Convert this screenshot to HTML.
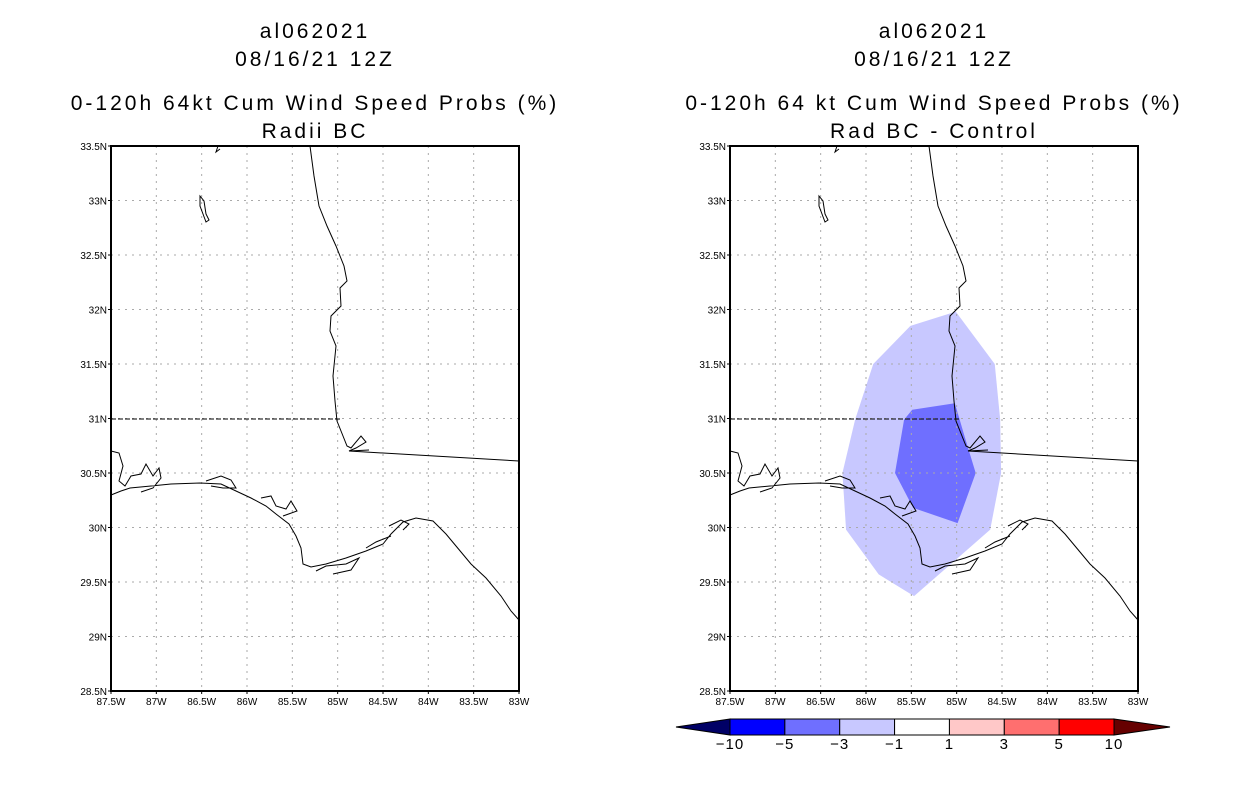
<!DOCTYPE html>
<html><head><meta charset="utf-8"><style>
body{margin:0;background:#fff;}
svg{display:block;font-family:"Liberation Sans",sans-serif;}
</style></head><body>
<svg id="s" width="1236" height="800" viewBox="0 0 1236 800"></svg>
<script>
const NS="http://www.w3.org/2000/svg";
const svg=document.getElementById('s');
// data
const lonTicks=[-87.5,-87,-86.5,-86,-85.5,-85,-84.5,-84,-83.5,-83];
const lonLabels=["87.5W","87W","86.5W","86W","85.5W","85W","84.5W","84W","83.5W","83W"];
const latTicks=[28.5,29,29.5,30,30.5,31,31.5,32,32.5,33,33.5];
const latLabels=["28.5N","29N","29.5N","30N","30.5N","31N","31.5N","32N","32.5N","33N","33.5N"];
const lightLon=[-85.01,-85.51,-85.92,-86.12,-86.26,-86.22,-85.86,-85.47,-84.85,-84.63,-84.51,-84.52,-84.58];
const lightLat=[31.98,31.85,31.50,30.99,30.50,29.98,29.57,29.37,29.82,29.98,30.50,30.99,31.50];
const darkLon=[-85.49,-85.02,-84.90,-84.79,-84.99,-85.48,-85.68,-85.58];
const darkLat=[31.08,31.14,30.80,30.50,30.04,30.18,30.50,30.99];
const cbLevels=["-10","-5","-3","-1","1","3","5","10"];
const cbColors=["#0000ff","#6f6fff","#c8c8ff","#ffffff","#ffc8c8","#ff6f6f","#ff0000"];
const W=408,H=545;
function el(t,a,p,name){const e=document.createElementNS(NS,t);for(const k in a)e.setAttribute(k,a[k]);(p||svg).appendChild(e);


return e;}
function xs(lon){return (lon+87.5)/4.5*W;}
function ys(lat){return (33.5-lat)/5*H;}
const coast="M0,349 L10,345 L19,342 L40,340 L60,338 L89,337 L110,338 L125,345 L140,352 L155,360 L165,368 L178,378 L185,390 L190,402 L192,418 L200,421 L215,418 L235,412 L255,405 L272,398 L280,388 L292,376 L305,372 L322,375 L335,388 L345,400 L360,418 L375,432 L390,450 L400,465 L408,474";
const bays="M0,305 L8,307 L12,320 L8,335 L14,340 L20,330 L30,328 L35,318 L42,330 L48,322 L50,332 L42,342 L30,346 M95,335 L110,330 L120,334 L125,342 L112,342 L100,340 M150,352 L160,350 L165,360 L175,363 L180,355 L186,365 L172,370 M205,425 L215,420 L235,418 L248,412 L240,424 L222,428 M278,380 L290,374 L298,378 L292,384 M255,402 L265,396 L280,390";
const river="M199,0 L203,30 L208,60 L216,80 L225,100 L233,120 L236,135 L229,142 L230,160 L220,170 L219,185 L225,200 L222,230 L224,255 L226,275 L232,290 L236,300 L240,302 L250,290 L255,296 L245,302 L238,305 L258,304";
const line="M238,305 L408,315";
const lake="M89,50 L93,55 L95,68 L98,74 L95,76 L92,68 L89,60 Z M107,0 L105,6 L109,3";
const state="M0,273 L230,273";
function panel(ox,title3,title4,name,fill){
  const g=el('g',{transform:`translate(${ox},146)`},svg,name);
  if(fill){
    const lp=lightLon.map((v,i)=>xs(v)+','+ys(lightLat[i])).join(' ');
    el('polygon',{points:lp,fill:'#c8c8ff'},g,'prob-diff-minus1-to-minus3');
    const dp=darkLon.map((v,i)=>xs(v)+','+ys(darkLat[i])).join(' ');
    el('polygon',{points:dp,fill:'#6f6fff'},g,'prob-diff-minus3-to-minus5');
  }
  lonTicks.forEach((v,i)=>{const x=xs(v);
    if(i>0&&i<lonTicks.length-1)el('line',{x1:x,y1:0,x2:x,y2:H,stroke:'#aaa','stroke-dasharray':'2,5'},g,'grid-line-lon');
    el('line',{x1:x,y1:H,x2:x,y2:H+3,stroke:'#000'},g,'x-tick');
    const t=el('text',{x:x,y:H+14,'font-size':10,'text-anchor':'middle'},g,'x-tick-label');t.textContent=lonLabels[i];});
  latTicks.forEach((v,i)=>{const y=ys(v);
    if(i>0&&i<latTicks.length-1)el('line',{x1:0,y1:y,x2:W,y2:y,stroke:'#aaa','stroke-dasharray':'2,5'},g,'grid-line-lat');
    el('line',{x1:-3,y1:y,x2:0,y2:y,stroke:'#000'},g,'y-tick');
    const t=el('text',{x:-4,y:y+4,'font-size':10,'text-anchor':'end'},g,'y-tick-label');t.textContent=latLabels[i];});
  el('path',{d:coast+' '+bays,fill:'none',stroke:'#000','stroke-width':1},g,'coastline');
  el('path',{d:river+' '+line+' '+lake,fill:'none',stroke:'#000','stroke-width':1},g,'state-border');
  el('path',{d:state,fill:'none',stroke:'#000','stroke-width':1,'stroke-dasharray':'5,2'},g,'state-border-dashed');
  el('rect',{x:0,y:0,width:W,height:H,fill:'none',stroke:'#000','stroke-width':2},g,'plot-frame');
  const cx=W/2;
  [["al062021",-108],["08/16/21 12Z",-80],[title3,-36],[title4,-8]].forEach(([s,y])=>{
    const t=el('text',{x:cx,y:y,'font-size':21,'text-anchor':'middle','letter-spacing':'3'},g,'chart-title');t.textContent=s;});
}
panel(111,"0-120h 64kt Cum Wind Speed Probs (%)","Radii BC","left-panel",false);
panel(730,"0-120h 64 kt Cum Wind Speed Probs (%)","Rad BC - Control","right-panel",true);
// colorbar
const cb=el('g',{},svg,'colorbar');
el('polygon',{points:"730,719 676,727 730,735",fill:'#000066',stroke:'#000'},cb,'colorbar-low-arrow');
el('polygon',{points:"1114,719 1170,727 1114,735",fill:'#660000',stroke:'#000'},cb,'colorbar-high-arrow');
cbColors.forEach((c,i)=>{el('rect',{x:730+i*54.86,y:719,width:54.86,height:16,fill:c,stroke:'#000'},cb,'colorbar-segment');});
cbLevels.forEach((l,i)=>{const t=el('text',{x:730+i*54.86,y:749,'font-size':15,'text-anchor':'middle','letter-spacing':'1'},cb,'colorbar-label');t.textContent=l.replace('-','\u2212');});
</script>
</body></html>
